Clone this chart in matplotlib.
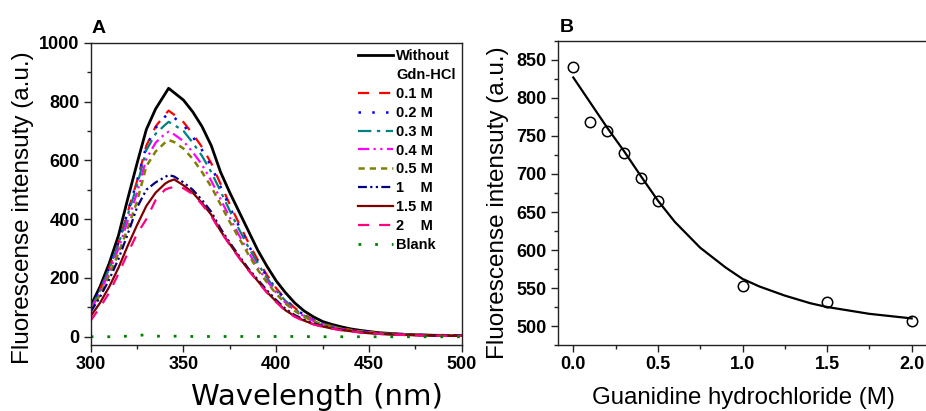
import matplotlib
matplotlib.use("Agg")
import matplotlib.pyplot as plt
from matplotlib.lines import Line2D
from matplotlib.ticker import MultipleLocator

# ---------------- data ----------------
wavelength = [300, 305, 310, 315, 320, 325, 330, 335, 340, 342, 345, 350, 355, 360,
              365, 370, 375, 380, 385, 390, 395, 400, 405, 410, 415, 420, 425, 430,
              435, 440, 445, 450, 455, 460, 465, 470, 475, 480, 485, 490, 495, 500]

without = [105, 170, 250, 345, 470, 590, 705, 775, 825, 845, 830, 805, 765, 715,
           650, 560, 490, 425, 360, 295, 240, 190, 150, 115, 88, 68, 52, 42,
           34, 27, 22, 18, 14, 12, 10, 8, 7, 6, 5, 5, 4, 4]
m01 = [95, 160, 235, 320, 425, 530, 650, 715, 755, 769, 755, 730, 690, 645,
       590, 520, 450, 385, 320, 262, 210, 165, 128, 98, 75, 58, 45, 36,
       29, 24, 19, 16, 13, 11, 9, 8, 7, 6, 5, 5, 4, 4]
m02 = [95, 160, 235, 322, 425, 530, 648, 710, 748, 760, 745, 720, 680, 635,
       580, 510, 440, 375, 312, 255, 205, 162, 125, 96, 74, 57, 44, 35,
       28, 23, 19, 15, 12, 10, 9, 8, 7, 6, 5, 5, 5, 5]
m03 = [95, 158, 232, 315, 415, 515, 635, 690, 720, 731, 720, 700, 660, 615,
       560, 495, 428, 365, 305, 250, 200, 158, 122, 94, 72, 56, 44, 35,
       28, 23, 19, 15, 12, 10, 9, 8, 7, 6, 5, 5, 4, 4]
m04 = [90, 150, 220, 300, 395, 490, 605, 660, 690, 697, 688, 665, 628, 585,
       530, 468, 405, 345, 288, 235, 190, 150, 116, 90, 70, 54, 42, 34,
       27, 22, 18, 15, 12, 10, 9, 8, 7, 6, 5, 5, 4, 4]
m05 = [88, 142, 210, 285, 370, 460, 580, 630, 660, 669, 662, 640, 605, 560,
       510, 450, 390, 335, 280, 228, 185, 146, 113, 88, 68, 53, 42, 34,
       27, 22, 18, 15, 12, 10, 9, 8, 7, 6, 5, 5, 5, 5]
m10 = [85, 135, 195, 265, 350, 440, 500, 525, 543, 550, 545, 525, 500, 465,
       425, 368, 320, 275, 232, 195, 158, 125, 95, 74, 58, 46, 37, 30,
       24, 20, 16, 13, 11, 9, 8, 7, 6, 5, 5, 4, 4, 4]
m15 = [70, 115, 170, 235, 310, 380, 445, 490, 520, 528, 535, 515, 490, 455,
       415, 360, 315, 270, 228, 190, 152, 120, 90, 70, 55, 43, 35, 28,
       23, 19, 15, 12, 10, 8, 7, 6, 5, 5, 4, 4, 3, 3]
m20 = [55, 100, 150, 215, 285, 350, 400, 465, 500, 505, 510, 505, 485, 450,
       410, 358, 312, 268, 226, 188, 150, 118, 88, 68, 53, 42, 34, 28,
       22, 18, 15, 12, 10, 8, 7, 6, 5, 4, 4, 3, 3, 3]
blank = [0, 1, 0, 1, 2, 3, 8, 2, 2, 2, 2, 2, 1, 1,
         1, 1, 1, 1, 1, 1, 1, 1, 1, 1, 1, 0, 0, 0,
         0, 0, 0, 0, 0, 0, 0, 0, 0, 0, 0, 0, 0, 0]

series_labels = ["Without", "0.1 M", "0.2 M", "0.3 M", "0.4 M", "0.5 M",
                 "1    M", "1.5 M", "2    M", "Blank"]

gdn_conc = [0.0, 0.1, 0.2, 0.3, 0.4, 0.5, 1.0, 1.5, 2.0]
gdn_intensity = [841, 768, 757, 728, 695, 664, 552, 532, 507]

fit_conc = [0.0, 0.1, 0.2, 0.3, 0.4, 0.5, 0.6, 0.75, 0.9, 1.0, 1.1, 1.25, 1.4, 1.5, 1.75, 2.0]
fit_intensity = [827, 794, 761, 730, 697, 665, 637, 603, 577, 562, 552, 540, 530, 525, 516, 510]

# ---------------- style ----------------
plt.rcParams['font.family'] = ['Liberation Sans', 'DejaVu Sans']
W, H = 926, 411
fig = plt.figure(figsize=(W / 100, H / 100), dpi=100)

def fx(px):
    return px / W

def fy(py):
    return 1 - py / H

axA = fig.add_axes([fx(90.7), fy(345), fx(461.7) - fx(90.7), fy(42.7) - fy(345)])
axB = fig.add_axes([fx(557.5), fy(345), 1 - fx(557.5), fy(41) - fy(345)])

styles = [
    dict(color='black', lw=2.0, ls='-'),
    dict(color='#ff0000', lw=1.6, dashes=(5, 4.5)),
    dict(color='#0000ff', lw=1.8, dashes=(1, 4.5)),
    dict(color='#008080', lw=1.6, dashes=(6, 2.5, 1.5, 2.5)),
    dict(color='#ff00ff', lw=1.6, dashes=(5, 2, 1, 2, 1, 2)),
    dict(color='#808000', lw=1.8, dashes=(2.5, 2)),
    dict(color='#000080', lw=1.6, dashes=(4, 1.5, 1, 1.5, 1, 1.5)),
    dict(color='#800000', lw=1.6, ls='-'),
    dict(color='#ff0080', lw=1.6, dashes=(5, 4.5)),
    dict(color='#008000', lw=2.0, dashes=(1, 5)),
]
data = [without, m01, m02, m03, m04, m05, m10, m15, m20, blank]
handles = []
for y, st, lab in zip(data, styles, series_labels):
    ln, = axA.plot(wavelength, y, label=lab, **st)
    handles.append(ln)

axA.set_xlim(300, 500)
axA.set_ylim(-28, 1000)
axA.xaxis.set_major_locator(MultipleLocator(50))
axA.xaxis.set_minor_locator(MultipleLocator(25))
axA.yaxis.set_major_locator(MultipleLocator(200))
axA.yaxis.set_minor_locator(MultipleLocator(100))

blank_handle = Line2D([], [], color='none')
leg_handles = [handles[0], blank_handle] + handles[1:]
leg_labels = ["Without", "Gdn-HCl"] + series_labels[1:]
leg = axA.legend(leg_handles, leg_labels, loc='upper left',
                 bbox_to_anchor=((358 - 90.7) / 371.0, (345 - 49.5) / 302.3),
                 frameon=False, borderpad=0, borderaxespad=0,
                 handlelength=2.4, handletextpad=0.2, labelspacing=0.33,
                 prop=dict(family='Liberation Sans', weight='bold', size=10.5))

# Panel B
axB.plot(gdn_conc, gdn_intensity, ls='none', marker='o', ms=7.5,
         mfc='none', mec='black', mew=1.1)
axB.plot(fit_conc, fit_intensity, color='black', lw=1.6)
axB.set_xlim(-0.0934, 2.0845)
axB.set_ylim(475, 875)
axB.xaxis.set_major_locator(MultipleLocator(0.5))
axB.xaxis.set_minor_locator(MultipleLocator(0.25))
axB.yaxis.set_major_locator(MultipleLocator(50))
axB.yaxis.set_minor_locator(MultipleLocator(25))
axB.set_xticks([0.0, 0.5, 1.0, 1.5, 2.0])
axB.set_xticklabels(["0.0", "0.5", "1.0", "1.5", "2.0"])
axB.spines['right'].set_visible(False)

for ax in (axA, axB):
    for sp in ax.spines.values():
        sp.set_linewidth(1.0)
        sp.set_color('#222222')
    ax.tick_params(which='major', direction='out', length=5, width=1.0,
                   labelsize=13, pad=3, color='#222222')
    ax.tick_params(which='minor', direction='out', length=3, width=1.0,
                   color='#222222')
    for lab in ax.get_xticklabels() + ax.get_yticklabels():
        lab.set_fontweight('bold')

# axis labels and panel letters
fig.text(fx(317), fy(397), "Wavelength (nm)", ha='center', va='center',
         fontsize=21, family='DejaVu Sans')
fig.text(fx(743), fy(398), "Guanidine hydrochloride (M)", ha='center',
         va='center', fontsize=17.3)
fig.text(fx(23), fy(208), "Fluorescense intensuty (a.u.)", ha='center',
         va='center', rotation=90, fontsize=17.5)
fig.text(fx(498), fy(203), "Fluorescense intensuty (a.u.)", ha='center',
         va='center', rotation=90, fontsize=17.5)
fig.text(fx(92), fy(33), "A", fontsize=14, fontweight='bold', ha='left',
         va='baseline')
fig.text(fx(560), fy(32), "B", fontsize=14, fontweight='bold', ha='left',
         va='baseline')

fig.savefig("out.png", dpi=100)
